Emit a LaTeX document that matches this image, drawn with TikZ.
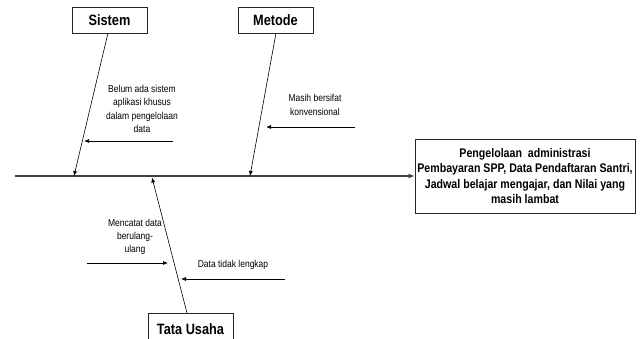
\documentclass[tikz,border=0pt]{standalone}
\usepackage{fontspec}
\setmainfont{Liberation Sans}
\newfontfamily\narrowfont[FakeStretch=0.85]{Liberation Sans}
\usetikzlibrary{arrows.meta}
\tikzset{
  catbox/.style={draw=black!85, line width=0.8pt, fill=white, inner sep=0pt,
    minimum height=26pt, font=\narrowfont\fontsize{15}{17}\selectfont\bfseries},
  effbox/.style={draw=black!85, line width=0.8pt, fill=white, inner sep=0pt,
    minimum width=220pt, minimum height=74pt, align=center,
    font=\narrowfont\fontsize{12.5}{15.3}\selectfont\bfseries},
  note/.style={align=center, inner sep=0pt, font=\narrowfont\fontsize{10}{13.3}\selectfont},
  bone/.style={line width=0.6pt, -{Latex[length=5pt,width=4pt]}},
  spine/.style={line width=1.1pt, draw=black!75, -{Latex[length=6pt,width=5pt]}},
  sub/.style={line width=0.7pt, -{Latex[length=5pt,width=4pt]}}
}
\begin{document}
\begin{tikzpicture}[x=1pt,y=-1pt]
\useasboundingbox (0,0) rectangle (643,338);
% effect
\node[effbox] (eff) at (525,176) {Pengelolaan\ \ administrasi\\Pembayaran SPP, Data Pendaftaran Santri,\\Jadwal belajar mengajar, dan Nilai yang\\masih lambat};
% spine
\coordinate (sp0) at (15,176);
\draw[spine] (sp0) -- (eff.west);
% categories
\node[catbox, minimum width=75pt] (sis) at (109.5,20) {Sistem};
\node[catbox, minimum width=75pt] (met) at (275.5,20) {Metode};
\node[catbox, minimum width=85pt, minimum height=32pt] (tu) at (190.5,329) {Tata Usaha};
% bone coordinates
\coordinate (sisT) at (108,33);
\coordinate (sisH) at (74,176);
\coordinate (metT) at (276,33);
\coordinate (metH) at (250,176);
\coordinate (tuT) at (187,313);
\coordinate (tuH) at (152,177.5);
\draw[bone] (sisT) -- (sisH);
\draw[bone] (metT) -- (metH);
\draw[bone] (tuT) -- (tuH);
% sub-causes
\coordinate (a1t) at (173,141);
\coordinate (a1h) at (84,141);
\draw[sub] (a1t) -- (a1h);
\node[note] (n1) at (142,109) {Belum ada sistem\\aplikasi khusus\\dalam pengelolaan\\data};
\coordinate (a2t) at (355,127);
\coordinate (a2h) at (266,127);
\draw[sub] (a2t) -- (a2h);
\node[note] (n2) at (315,105) {Masih bersifat\\konvensional};
\coordinate (a3t) at (87,263);
\coordinate (a3h) at (168,263);
\draw[sub] (a3t) -- (a3h);
\node[note] (n3) at (135,237) {Mencatat data\\berulang-\\ulang};
\coordinate (a4t) at (285,279);
\coordinate (a4h) at (181,279);
\draw[sub] (a4t) -- (a4h);
\node[note] (n4) at (233,265) {Data tidak lengkap};
\end{tikzpicture}
\end{document}
